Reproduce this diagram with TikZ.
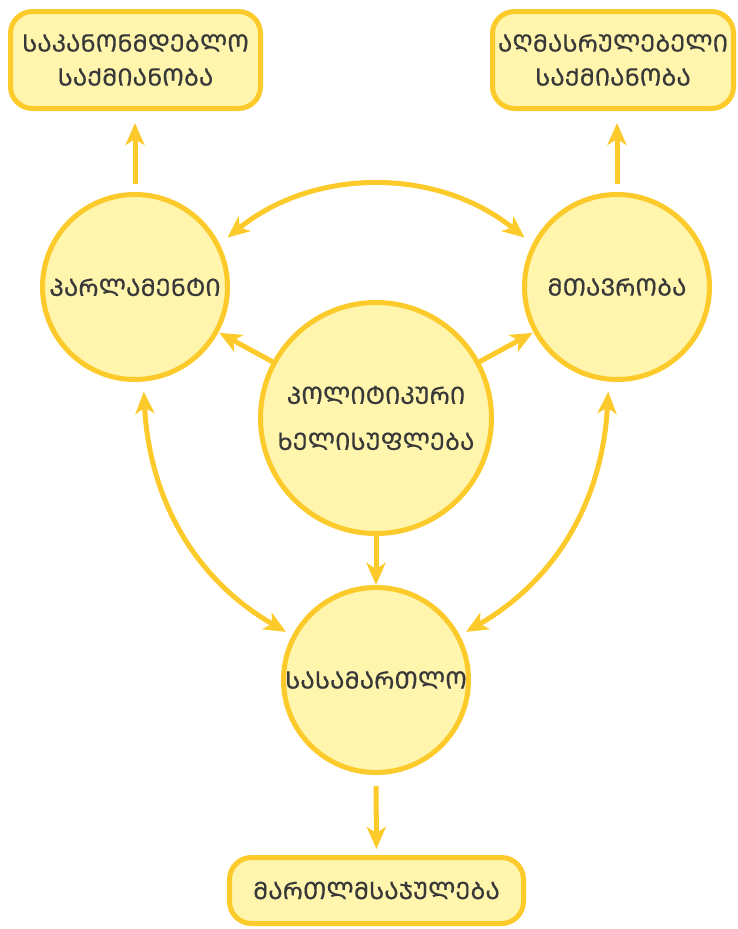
\documentclass[tikz,border=0pt]{standalone}
\usepackage{fontspec}
\setmainfont{DejaVu Sans}
\usetikzlibrary{arrows.meta,calc}
\definecolor{gold}{HTML}{FCCA2A}
\definecolor{pale}{HTML}{FFF5AD}
\definecolor{ink}{HTML}{383838}
% Georgian labels: capitals when a font with Mtavruli is present, else Mkhedruli
\newif\ifmtavruli
\IfFontExistsTF{Noto Sans Georgian}{%
  \mtavrulitrue
  \newfontfamily\geofont[FakeBold=0.4]{Noto Sans Georgian}%
}{%
  \mtavrulifalse
  \newfontfamily\geofont{DejaVu Sans}%
}
\newcommand\geo[2]{\ifmtavruli #1\else #2\fi}
\begin{document}
\begin{tikzpicture}[x=1pt,y=-1pt,
  lbl/.style={font=\geofont\fontsize{24}{34}\selectfont, text=ink, align=center},
  circ/.style={lbl, circle, draw=gold, fill=pale, line width=5pt, inner sep=0pt, minimum size=185pt},
  box/.style={lbl, rectangle, rounded corners=22pt, draw=gold, fill=pale, line width=5pt, inner sep=0pt},
  link/.style={draw=gold, line width=5pt, -{Stealth[length=22pt,width=19pt,inset=6pt]}},
  both/.style={draw=gold, line width=5pt, {Stealth[length=22pt,width=19pt,inset=6pt]}-{Stealth[length=22pt,width=19pt,inset=6pt]}},
]
\useasboundingbox (0,0) rectangle (738,929);

% activities
\node[box, minimum width=250pt, minimum height=97pt] (leg) at (135.5,60)
  {\geo{ᲡᲐᲙᲐᲜᲝᲜᲛᲓᲔᲑᲚᲝ}{საკანონმდებლო}\\\geo{ᲡᲐᲥᲛᲘᲐᲜᲝᲑᲐ}{საქმიანობა}};
\node[box, minimum width=241pt, minimum height=97pt] (exe) at (613,60)
  {\geo{ᲐᲦᲛᲐᲡᲠᲣᲚᲔᲑᲔᲚᲘ}{აღმასრულებელი}\\\geo{ᲡᲐᲥᲛᲘᲐᲜᲝᲑᲐ}{საქმიანობა}};
\node[box, minimum width=294pt, minimum height=66pt] (jus) at (376.5,890.5)
  {\geo{ᲛᲐᲠᲗᲚᲛᲡᲐᲯᲣᲚᲔᲑᲐ}{მართლმსაჯულება}};

% branches of power
\node[circ] (parl) at (135,287) {\geo{ᲞᲐᲠᲚᲐᲛᲔᲜᲢᲘ}{პარლამენტი}};
\node[circ] (gov) at (617,287) {\geo{ᲛᲗᲐᲕᲠᲝᲑᲐ}{მთავრობა}};
\node[circ, minimum size=231pt] (pol) at (376,418)
  {\geo{ᲞᲝᲚᲘᲢᲘᲙᲣᲠᲘ}{პოლიტიკური}\\[12pt]\geo{ᲮᲔᲚᲘᲡᲣᲤᲚᲔᲑᲐ}{ხელისუფლება}};
\node[circ] (court) at (376,680) {\geo{ᲡᲐᲡᲐᲛᲐᲠᲗᲚᲝ}{სასამართლო}};

% connectors
\draw[link, shorten <=8pt, shorten >=12pt] (parl.north) -- (parl.north |- leg.south);
\draw[link, shorten <=8pt, shorten >=12pt] (gov.north) -- (gov.north |- exe.south);
\draw[both, shorten <=10pt, shorten >=10pt] (parl.27) to[out=39,in=141] (gov.153);
\draw[link, shorten >=1pt] (pol) -- (parl);
\draw[link, shorten >=1pt] (pol) -- (gov);
\draw[link] (pol.south) -- (court.north);
\draw[both, shorten <=10pt, shorten >=7pt] (parl.-85) to[out=-87,in=150] (court.152);
\draw[both, shorten <=10pt, shorten >=7pt] (gov.-95) to[out=-93,in=30] (court.28);
\draw[link, shorten <=11pt, shorten >=6pt] (court.south) -- (jus.north);
\end{tikzpicture}
\end{document}
